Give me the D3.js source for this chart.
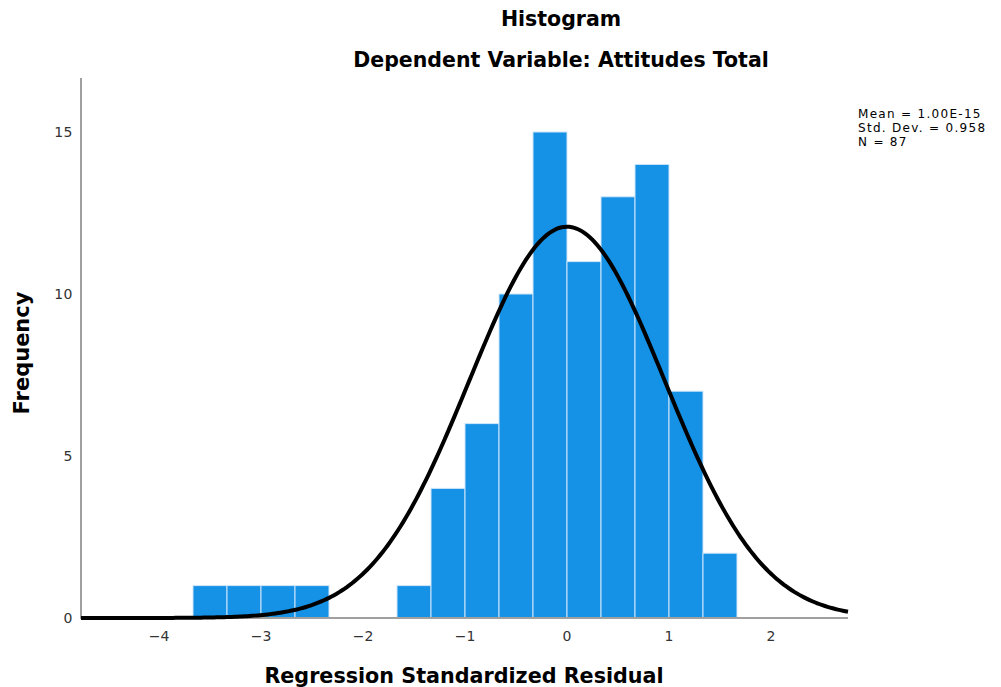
<!DOCTYPE html>
<html>
<head>
<meta charset="utf-8">
<script src="https://cdn.jsdelivr.net/npm/d3@7"></script>
<style>
  body { margin: 0; background: #fff; }
  text { font-family: "DejaVu Sans", sans-serif; }
</style>
</head>
<body>
<svg width="1001" height="687"></svg>
<script>
// bins of regression standardized residual (width 1/3)
var binStarts = [-11, -10, -9, -8, -7, -6, -5, -4, -3, -2, -1, 0, 1, 2, 3, 4].map(function(k){ return k / 3; });
var counts = [1, 1, 1, 1, 0, 0, 1, 4, 6, 10, 15, 11, 13, 14, 7, 2];
var binWidth = 1 / 3;
var xTicks = [-4, -3, -2, -1, 0, 1, 2];
var yTicks = [0, 5, 10, 15];
var mean = 1.00e-15, sd = 0.958, n = 87;

var svg = d3.select('svg');

var x = d3.scaleLinear().domain([0, 1]).range([567, 669]);
var xMin = x.invert(81), xMax = x.invert(848);
var y = d3.scaleLinear().domain([0, 15]).range([618, 132]);

// titles
svg.append('text')
    .attr('x', 561).attr('y', 26)
    .attr('text-anchor', 'middle')
    .style('font-weight', 'bold').style('font-size', '20.5px')
    .text('Histogram');
svg.append('text')
    .attr('x', 561).attr('y', 67)
    .attr('text-anchor', 'middle')
    .style('font-weight', 'bold').style('font-size', '20.5px')
    .text('Dependent Variable: Attitudes Total');

// bars
svg.selectAll('rect.bar')
    .data(binStarts.map(function(s, i){ return {x0: s, x1: s + binWidth, c: counts[i]}; })
        .filter(function(d){ return d.c > 0; }))
    .enter()
    .append('rect')
    .attr('class', 'bar')
    .attr('x', function(d){ return x(d.x0); })
    .attr('width', function(d){ return x(d.x1) - x(d.x0); })
    .attr('y', function(d){ return y(d.c); })
    .attr('height', function(d){ return y(0) - y(d.c); })
    .attr('fill', '#1591e6')
    .attr('stroke', '#cfe6fa')
    .attr('stroke-width', 1);

// axes
svg.append('line')
    .attr('x1', 81).attr('x2', 81).attr('y1', 78).attr('y2', 618)
    .attr('stroke', '#a0a0a0').attr('stroke-width', 2);
svg.append('line')
    .attr('x1', 80).attr('x2', 848).attr('y1', 618).attr('y2', 618)
    .attr('stroke', '#a0a0a0').attr('stroke-width', 2);

svg.selectAll('text.ytick')
    .data(yTicks)
    .enter()
    .append('text')
    .attr('class', 'ytick')
    .attr('x', 73)
    .attr('y', function(d){ return y(d) + 5; })
    .attr('text-anchor', 'end')
    .style('font-size', '14px').style('letter-spacing', '0.5px').attr('fill', '#333')
    .text(function(d){ return d; });

svg.selectAll('text.xtick')
    .data(xTicks)
    .enter()
    .append('text')
    .attr('class', 'xtick')
    .attr('x', function(d){ return x(d); })
    .attr('y', 641)
    .attr('text-anchor', 'middle')
    .style('font-size', '14px').attr('fill', '#333')
    .text(function(d){ return d < 0 ? '\u2212' + (-d) : d; });

// axis titles
svg.append('text')
    .attr('x', 464).attr('y', 683)
    .attr('text-anchor', 'middle')
    .style('font-weight', 'bold').style('font-size', '20.7px')
    .text('Regression Standardized Residual');
svg.append('text')
    .attr('transform', 'translate(29,353) rotate(-90)')
    .attr('text-anchor', 'middle')
    .style('font-weight', 'bold').style('font-size', '21px')
    .text('Frequency');

// normal curve from the stated mean / std. dev / N
var curvePts = d3.range(0, 301).map(function(i){
    var v = xMin + (xMax - xMin) * i / 300;
    var z = (v - mean) / sd;
    return {x: v, y: n * binWidth * Math.exp(-0.5 * z * z) / (sd * Math.sqrt(2 * Math.PI))};
});
var lineFunction = d3.line()
    .x(function(d){ return x(d.x); })
    .y(function(d){ return y(d.y); });
svg.append('path')
    .datum(curvePts)
    .attr('d', lineFunction)
    .attr('fill', 'none')
    .attr('stroke', '#000')
    .attr('stroke-width', 4);

// stats box
var stats = ['Mean = 1.00E-15', 'Std. Dev. = 0.958', 'N = 87'];
svg.selectAll('text.stat')
    .data(stats)
    .enter()
    .append('text')
    .attr('class', 'stat')
    .attr('x', 858)
    .attr('y', function(d, i){ return 118 + i * 14; })
    .style('font-size', '12px').style('letter-spacing', '1.3px')
    .text(function(d){ return d; });
</script>
</body>
</html>
